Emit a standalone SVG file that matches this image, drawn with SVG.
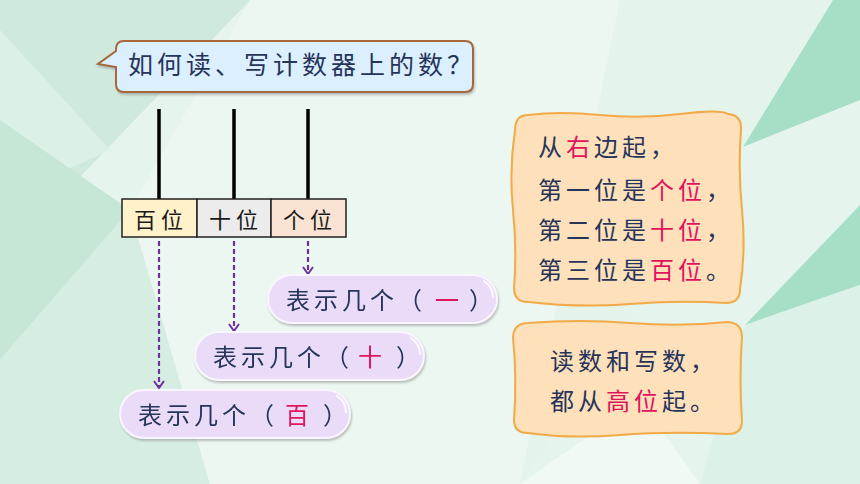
<svg xmlns="http://www.w3.org/2000/svg" width="860" height="484" viewBox="0 0 860 484">
<defs>
<style>
.t{font-family:"Noto Sans CJK SC","Noto Sans",sans-serif;fill:#26345a}
.k{fill:#1a1a1a}
.r{fill:#e0125c}
.pill{fill:#eadcf8;stroke:#faf6ff;stroke-width:2}
.hl{fill:none;stroke:#ffffff;stroke-width:2;stroke-linecap:round;opacity:0.9}
.box{fill:#fee1bb;stroke:#f2aa48;stroke-width:2}
.rod{stroke:#000;stroke-width:3.5}
.cell{stroke:#222;stroke-width:1.5}
.arr{stroke:#7030a0;stroke-width:2.2;stroke-dasharray:5 3;fill:none;marker-end:url(#ah)}
</style>
<marker id="ah" viewBox="0 0 12 12" refX="11" refY="6" markerWidth="12" markerHeight="12" markerUnits="userSpaceOnUse" orient="auto">
<path d="M4,1 L11,6 L4,11" fill="none" stroke="#7030a0" stroke-width="2"/>
</marker>
<filter id="sh" x="-10%" y="-20%" width="120%" height="150%">
<feDropShadow dx="1" dy="2" stdDeviation="1.2" flood-color="#8a8a8a" flood-opacity="0.55"/>
</filter>
</defs>
<g id="background">
<rect width="860" height="484" fill="#e5f4ec"/>
<polygon points="0,0 250,0 0,260" fill="#cfeadd"/>
<polygon points="0,30 110,150 0,200" fill="#dcf1e6"/>
<polygon points="0,120 130,210 0,360" fill="#c6e7d6"/>
<polygon points="0,360 130,210 210,484 0,484" fill="#d6eee1"/>
<polygon points="250,0 620,0 520,484 210,484 130,210" fill="#ecf7f1"/>
<polygon points="620,0 860,0 745,148 520,484" fill="#e3f4eb" opacity="0.8"/>
<polygon points="743,147 833,0 860,0 860,100" fill="#a7dfc6"/>
<polygon points="745,325 860,205 860,285" fill="#a7dfc6"/>
<polygon points="745,325 860,285 860,484 700,484" fill="#dcf1e7"/>
<polygon points="520,484 640,400 700,484" fill="#f1f9f5"/>
</g>
<g id="question">
<path d="M124,41 H465 Q473,41 473,49 V84 Q473,92 465,92 H124 Q116,92 116,84 V67 L98,64 L116,51 V49 Q116,41 124,41 Z" fill="#dcefff" stroke="#a6673b" stroke-width="2" filter="url(#sh)"/>
<text class="t" x="128" y="74" font-size="25" letter-spacing="4">如何读、写计数器上的数？</text>
</g>
<g id="abacus">
<line class="rod" x1="159" y1="109" x2="159" y2="199"/>
<line class="rod" x1="234" y1="109" x2="234" y2="199"/>
<line class="rod" x1="308" y1="109" x2="308" y2="199"/>
</g>
<g id="place-table">
<rect class="cell" x="122" y="199" width="75" height="38" fill="#fff1c9"/>
<rect class="cell" x="197" y="199" width="74" height="38" fill="#ececec"/>
<rect class="cell" x="271" y="199" width="75" height="38" fill="#fbe3d4"/>
<text class="t k" x="134" y="228" font-size="22" letter-spacing="5">百位</text>
<text class="t k" x="209" y="228" font-size="22" letter-spacing="5">十位</text>
<text class="t k" x="283" y="228" font-size="22" letter-spacing="5">个位</text>
</g>
<g id="connectors">
<line class="arr" x1="159" y1="241" x2="159" y2="388"/>
<line class="arr" x1="234" y1="241" x2="234" y2="331"/>
<line class="arr" x1="308" y1="241" x2="308" y2="274"/>
</g>
<g id="pill-ones" filter="url(#sh)">
<rect class="pill" x="268" y="275" width="229" height="48" rx="24"/>
<path class="hl" d="M484,281 Q493,287 493,297"/>
<text class="t" font-size="24" y="309"><tspan x="286" letter-spacing="4">表示几个（</tspan><tspan class="r" x="435">一</tspan><tspan x="469">）</tspan></text>
</g>
<g id="pill-tens" filter="url(#sh)">
<rect class="pill" x="195" y="332" width="229" height="48" rx="24"/>
<path class="hl" d="M411,338 Q420,344 420,354"/>
<text class="t" font-size="24" y="366"><tspan x="213" letter-spacing="4">表示几个（</tspan><tspan class="r" x="358">十</tspan><tspan x="396">）</tspan></text>
</g>
<g id="pill-hundreds" filter="url(#sh)">
<rect class="pill" x="120" y="390" width="230" height="48" rx="24"/>
<path class="hl" d="M337,396 Q346,402 346,412"/>
<text class="t" font-size="24" y="424"><tspan x="138" letter-spacing="4">表示几个（</tspan><tspan class="r" x="285">百</tspan><tspan x="323">）</tspan></text>
</g>
<g id="rule-box">
<path class="box" d="M528,115 Q560,111 600,115 T680,114 T728,114 Q742,115 741,130 Q738,170 742,210 T740,289 Q740,303 726,303 Q680,300 630,304 T528,302 Q514,302 514,288 Q517,250 513,210 T515,130 Q515,115 528,115 Z"/>
<text class="t" font-size="24" letter-spacing="4">
<tspan x="538" y="156">从<tspan class="r">右</tspan>边起，</tspan>
<tspan x="538" y="199">第一位是<tspan class="r">个位</tspan>，</tspan>
<tspan x="538" y="239">第二位是<tspan class="r">十位</tspan>，</tspan>
<tspan x="538" y="279">第三位是<tspan class="r">百位</tspan>。</tspan>
</text>
</g>
<g id="order-box">
<path class="box" d="M528,323 Q580,319 630,323 T728,322 Q742,323 742,337 Q739,380 742,421 Q742,434 728,434 Q670,431 620,435 T528,433 Q514,433 514,420 Q517,378 513,337 Q514,323 528,323 Z"/>
<text class="t" font-size="24" letter-spacing="4">
<tspan x="550" y="370">读数和写数，</tspan>
<tspan x="550" y="410">都从<tspan class="r">高位</tspan>起。</tspan>
</text>
</g>
</svg>
